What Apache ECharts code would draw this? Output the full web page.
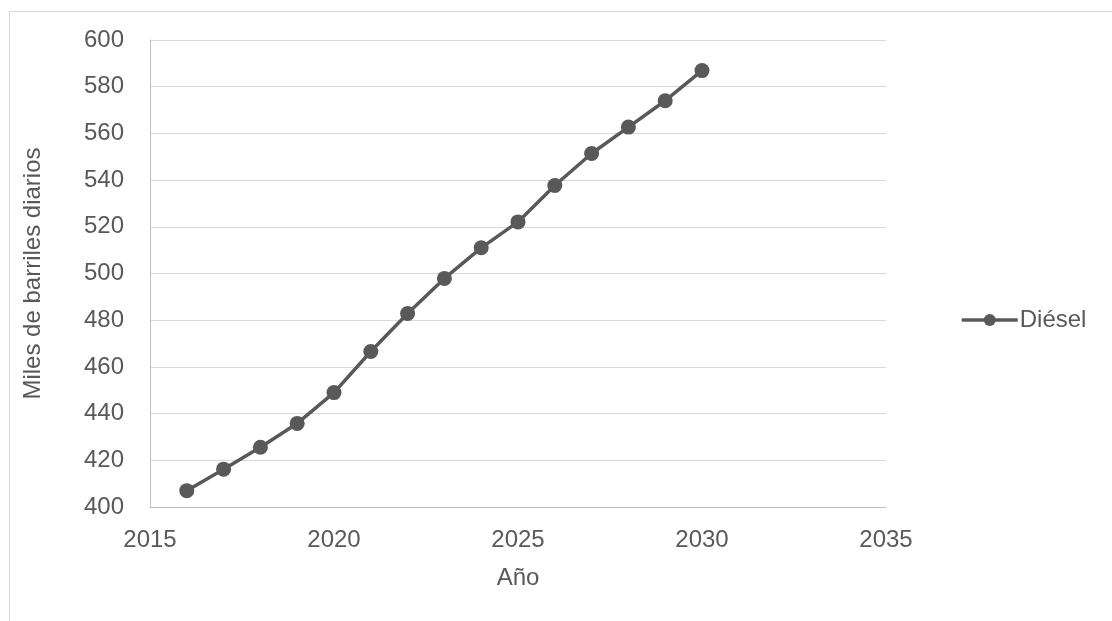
<!DOCTYPE html>
<html><head><meta charset="utf-8">
<script src="https://cdn.jsdelivr.net/npm/echarts@6/dist/echarts.min.js"></script>
<style>html,body{margin:0;padding:0;background:#fff}#c{width:1112px;height:621px}</style>
</head><body><div id="c"></div>
<script>
const years = [2016,2017,2018,2019,2020,2021,2022,2023,2024,2025,2026,2027,2028,2029,2030];
const diesel = [407,416.2,425.6,435.8,449,466.6,482.9,497.9,511,522.1,537.7,551.4,562.7,574,586.9];
const seriesName = 'Diésel';
const xTitle = 'Año';
const yTitle = 'Miles de barriles diarios';

const chart = echarts.init(document.getElementById('c'), null, {renderer:'canvas'});
const font = 'Liberation Sans, Arial, sans-serif';
const txt = {fontFamily:font,fontSize:24,color:'#595959'};
chart.setOption({
  animation:false,
  graphic:[{type:'rect',shape:{x:9.5,y:11.5,width:1200,height:700},style:{fill:'none',stroke:'#d9d9d9',lineWidth:1},silent:true}],
  grid:{left:150,right:226,top:40,bottom:114,containLabel:false},
  legend:{left:955,top:303,itemWidth:56,itemHeight:15,itemGap:4,
    lineStyle:{width:3.5,color:'#595959'},
    itemStyle:{color:'#595959'},
    textStyle:Object.assign({},txt,{padding:[0,0,0,-3]}),
    data:[seriesName]},
  xAxis:{type:'value',min:2015,max:2035,interval:5,name:xTitle,nameLocation:'middle',nameGap:59,
    nameTextStyle:txt,
    axisLine:{show:true,lineStyle:{color:'#bfbfbf',width:1}},axisTick:{show:false},
    splitLine:{show:false},
    axisLabel:Object.assign({},txt,{margin:21,formatter:v=>String(v)})},
  yAxis:{type:'value',min:400,max:600,interval:20,name:yTitle,nameLocation:'middle',nameGap:105,
    nameTextStyle:txt,
    axisLine:{show:true,lineStyle:{color:'#bfbfbf',width:1}},axisTick:{show:false},
    splitLine:{show:true,lineStyle:{color:'#d9d9d9',width:1}},
    axisLabel:Object.assign({},txt,{margin:26})},
  series:[{name:seriesName,type:'line',data:years.map((y,i)=>[y,diesel[i]]),
    symbol:'circle',symbolSize:15,
    lineStyle:{color:'#595959',width:3.5},itemStyle:{color:'#595959'}}]
});
</script></body></html>
